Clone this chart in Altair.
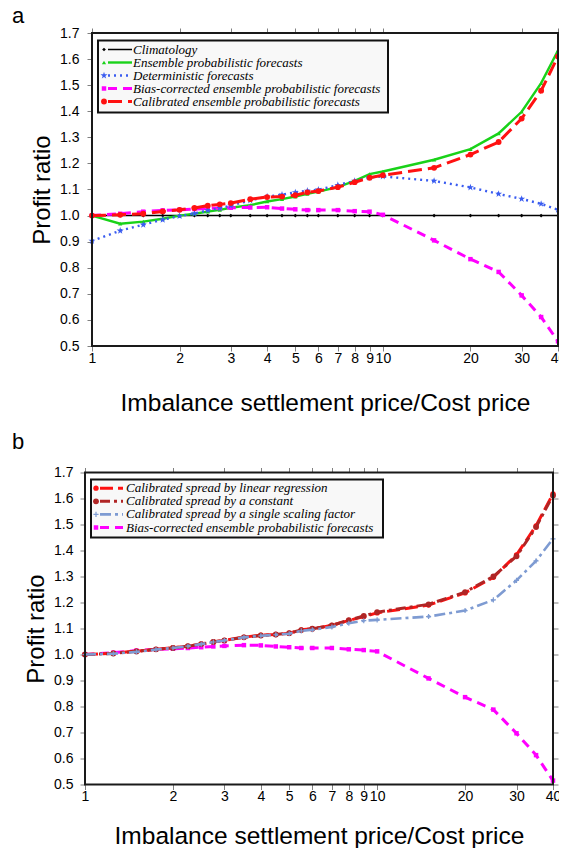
import altair as alt
import pandas as pd

# ---------------- data ----------------
X_VALUES = [1, 1.25, 1.5, 1.75, 2, 2.25, 2.5, 2.75, 3, 3.5, 4, 4.5, 5, 5.5, 6, 7, 8, 9, 10, 15, 20, 25, 30, 35, 40]

# panel a
CLIMATOLOGY = [1.0, 1.0, 1.0, 1.0, 1.0, 1.0, 1.0, 1.0, 1.0, 1.0, 1.0, 1.0, 1.0,
               1.0, 1.0, 1.0, 1.0, 1.0, 1.0, 1.0, 1.0, 1.0, 1.0, 1.0, 1.0]
ENSEMBLE = [1.000, 0.969, 0.977, 0.988, 1.000, 1.007, 1.015, 1.022, 1.030, 1.040, 1.054, 1.063, 1.073,
            1.083, 1.092, 1.109, 1.133, 1.159, 1.169, 1.214, 1.255, 1.315, 1.398, 1.508, 1.633]
DETERMINISTIC = [0.903, 0.942, 0.965, 0.984, 0.998, 1.008, 1.020, 1.029, 1.038, 1.058, 1.073, 1.080, 1.089,
                 1.095, 1.099, 1.117, 1.133, 1.146, 1.150, 1.133, 1.108, 1.083, 1.064, 1.045, 1.022]
BIAS_CORRECTED_A = [1.000, 1.007, 1.015, 1.020, 1.022, 1.025, 1.027, 1.029, 1.030, 1.031, 1.032, 1.027, 1.024,
                    1.021, 1.021, 1.021, 1.017, 1.015, 1.003, 0.905, 0.833, 0.784, 0.694, 0.611, 0.518]
CALIBRATED = [1.000, 1.003, 1.007, 1.016, 1.022, 1.029, 1.038, 1.043, 1.048, 1.063, 1.071, 1.073, 1.078,
              1.089, 1.094, 1.109, 1.128, 1.145, 1.155, 1.183, 1.234, 1.282, 1.372, 1.479, 1.610]

# panel b
LIN_REGRESSION = [1.000, 1.005, 1.013, 1.020, 1.026, 1.032, 1.041, 1.049, 1.054, 1.067, 1.074, 1.077, 1.082,
                  1.095, 1.099, 1.112, 1.131, 1.146, 1.160, 1.190, 1.237, 1.297, 1.383, 1.495, 1.618]
CONSTANT = [1.000, 1.004, 1.012, 1.020, 1.025, 1.032, 1.040, 1.048, 1.054, 1.066, 1.073, 1.077, 1.082,
            1.094, 1.099, 1.112, 1.132, 1.148, 1.163, 1.193, 1.240, 1.300, 1.378, 1.490, 1.612]
SCALING = [1.000, 1.003, 1.010, 1.019, 1.025, 1.032, 1.040, 1.048, 1.054, 1.066, 1.072, 1.076, 1.080,
           1.091, 1.095, 1.106, 1.120, 1.130, 1.133, 1.146, 1.169, 1.210, 1.285, 1.360, 1.445]
BIAS_CORRECTED_B = [1.000, 1.007, 1.015, 1.020, 1.022, 1.025, 1.028, 1.031, 1.033, 1.036, 1.035, 1.031, 1.028,
                    1.025, 1.025, 1.025, 1.020, 1.017, 1.012, 0.908, 0.836, 0.788, 0.697, 0.613, 0.515]

LABELS_A = ["Climatology", "Ensemble probabilistic forecasts", "Deterministic forecasts",
            "Bias-corrected ensemble probabilistic forecasts", "Calibrated ensemble probabilistic forecasts"]
LABELS_B = ["Calibrated spread by linear regression", "Calibrated spread by a constant",
            "Calibrated spread by a single scaling factor", "Bias-corrected ensemble probabilistic forecasts"]
PANEL_LABELS = ["a", "b"]
X_TITLE = "Imbalance settlement price/Cost price"
Y_TITLE = "Profit ratio"
X_TICKS = [1, 2, 3, 4, 5, 6, 7, 8, 9, 10, 20, 30, 40]
Y_TICKS = [0.5, 0.6, 0.7, 0.8, 0.9, 1.0, 1.1, 1.2, 1.3, 1.4, 1.5, 1.6, 1.7]

# ---------------- styles ----------------
STAR = ("M0,-1L0.225,-0.309L0.951,-0.309L0.363,0.118L0.588,0.809L0,0.382"
        "L-0.588,0.809L-0.363,0.118L-0.951,-0.309L-0.225,-0.309Z")
PLUS = "M-1,0L1,0M0,-1L0,1"

ST_CLIM = dict(color="#000000", width=1.5, shape="diamond", size=14, filled=True)
ST_ENS = dict(color="#19d219", width=2.4, shape="triangle-up", size=18, filled=True)
ST_DET = dict(color="#3a5cf0", width=2.4, dash=[2, 4], shape=STAR, size=55, filled=True)
ST_BIAS = dict(color="#ff00ff", width=3.0, dash=[9, 6], shape="square", size=20, filled=True)
ST_CAL = dict(color="#ff1111", width=3.0, dash=[14, 6], shape="circle", size=34, filled=True)
ST_LIN = dict(color="#ff1111", width=3.0, dash=[13, 5], shape="circle", size=28, filled=True)
ST_CON = dict(color="#b02525", width=3.0, dash=[10, 4, 3, 4], shape="circle", size=34, filled=True)
ST_SCA = dict(color="#7e9bd2", width=2.6, dash=[11, 4, 3, 4], shape=PLUS, size=26, filled=False)

FONT = "Liberation Sans"
SERIF = "Liberation Serif"


def xenc(rng, axis=None):
    return alt.X("x:Q", scale=alt.Scale(type="log", domain=[1, 40], nice=False, range=rng), axis=axis)


def yenc(axis=None):
    return alt.Y("y:Q", scale=alt.Scale(domain=[0.5, 1.7], nice=False, zero=False), axis=axis)


def line_kwargs(st):
    kw = dict(color=st["color"], strokeWidth=st["width"])
    if "dash" in st:
        kw["strokeDash"] = st["dash"]
    return kw


def point_kwargs(st):
    kw = dict(shape=st["shape"], size=st["size"], filled=st["filled"], color=st["color"], opacity=1)
    if not st["filled"]:
        kw["strokeWidth"] = 1.2
    return kw


def series_layers(values, st, rng):
    df = pd.DataFrame({"x": X_VALUES, "y": values})
    line = alt.Chart(df).mark_line(**line_kwargs(st)).encode(x=xenc(rng), y=yenc())
    pts = alt.Chart(df).mark_point(**point_kwargs(st)).encode(x=xenc(rng), y=yenc())
    return [line, pts]


def axis_layers(values, rng, title_pad_x, label_pad_y, left_offset):
    df = pd.DataFrame({"x": X_VALUES, "y": values})
    common = dict(tickColor="#808080", tickWidth=1, tickSize=5, domain=False, grid=False)
    bottom = alt.Axis(orient="bottom", values=X_TICKS, format="d", title=X_TITLE,
                      labelFont=FONT, labelFontSize=14, labelColor="black", labelPadding=0,
                      labelFlush=False, labelOverlap=False,
                      titleFont=FONT, titleFontSize=24.5, titleFontWeight="normal", titleColor="black",
                      titlePadding=title_pad_x, **common)
    left = alt.Axis(orient="left", values=Y_TICKS, format=".1f", title=Y_TITLE, offset=left_offset,
                    labelFont=FONT, labelFontSize=14, labelColor="black", labelPadding=label_pad_y,
                    labelOverlap=False,
                    titleFont=FONT, titleFontSize=24, titleFontWeight="normal", titleColor="black",
                    titlePadding=5, **common)
    top = alt.Axis(orient="top", values=X_TICKS, labels=False, title=None, **common)
    right = alt.Axis(orient="right", values=Y_TICKS, labels=False, title=None, **common)
    l1 = alt.Chart(df).mark_point(opacity=0).encode(x=xenc(rng, bottom), y=yenc(left))
    l2 = alt.Chart(df).mark_point(opacity=0).encode(x=xenc(rng, top), y=yenc(right))
    return [l1, l2]


def frame_layer(x0, x1, h):
    one = pd.DataFrame({"k": [0]})
    return alt.Chart(one).mark_rect(fill="white", fillOpacity=0, stroke="#1a1a1a", strokeWidth=2).encode(
        x=alt.value(x0), x2=alt.value(x1), y=alt.value(0), y2=alt.value(h))


def legend_layers(labels, styles, box, row_y, sym_x, line_x0, line_x1, text_x):
    one = pd.DataFrame({"k": [0]})
    layers = [alt.Chart(one).mark_rect(fill="#f8f8f8", stroke="#111111", strokeWidth=2).encode(
        x=alt.value(box[0]), x2=alt.value(box[1]), y=alt.value(box[2]), y2=alt.value(box[3]))]
    for i, (lab, st) in enumerate(zip(labels, styles)):
        yy = row_y[0] + i * row_y[1]
        layers.append(alt.Chart(one).mark_rule(**line_kwargs(st)).encode(
            x=alt.value(line_x0), x2=alt.value(line_x1), y=alt.value(yy)))
        layers.append(alt.Chart(one).mark_point(**point_kwargs(st)).encode(
            x=alt.value(sym_x), y=alt.value(yy)))
        layers.append(alt.Chart(pd.DataFrame({"label": [lab]})).mark_text(
            align="left", baseline="middle", font=SERIF, fontStyle="italic", fontSize=13,
            color="black").encode(x=alt.value(text_x), y=alt.value(yy), text="label:N"))
    return layers


def panel_label(lab, x, y):
    return alt.Chart(pd.DataFrame({"label": [lab]})).mark_text(
        align="left", baseline="alphabetic", font=FONT, fontSize=22, color="black").encode(
        x=alt.value(x), y=alt.value(y), text="label:N")


# ---------------- panel a ----------------
# plot area of panel a starts 7px to the right of panel b's
RNG_A = [7, 473]
layers_a = axis_layers(CLIMATOLOGY, RNG_A, 26, 8, -7)
layers_a += series_layers(CLIMATOLOGY, ST_CLIM, RNG_A)
layers_a += series_layers(ENSEMBLE, ST_ENS, RNG_A)
layers_a += series_layers(BIAS_CORRECTED_A, ST_BIAS, RNG_A)
layers_a += series_layers(DETERMINISTIC, ST_DET, RNG_A)
layers_a += series_layers(CALIBRATED, ST_CAL, RNG_A)
layers_a.append(frame_layer(7, 473, 313))
layers_a += legend_layers(LABELS_A, [ST_CLIM, ST_ENS, ST_DET, ST_BIAS, ST_CAL],
                          (13, 303, 7.5, 79.5), (16.5, 13.0), 19, 23, 47, 48)
layers_a.append(panel_label(PANEL_LABELS[0], -73, -10.5))
panel_a = alt.layer(*layers_a).resolve_axis(x="independent", y="independent").properties(
    width=473, height=313)

# ---------------- panel b ----------------
RNG_B = [0, 468]
layers_b = axis_layers(BIAS_CORRECTED_B, RNG_B, 21, 7, 0)
layers_b += series_layers(BIAS_CORRECTED_B, ST_BIAS, RNG_B)
layers_b += series_layers(LIN_REGRESSION, ST_LIN, RNG_B)
layers_b += series_layers(CONSTANT, ST_CON, RNG_B)
layers_b += series_layers(SCALING, ST_SCA, RNG_B)
layers_b.append(frame_layer(0, 468, 312))
layers_b += legend_layers(LABELS_B, [ST_LIN, ST_CON, ST_SCA, ST_BIAS],
                          (6, 298, 7, 65), (15.7, 13.1), 11, 15, 38, 41)
layers_b.append(panel_label(PANEL_LABELS[1], -73, -23.3))
panel_b = alt.layer(*layers_b).resolve_axis(x="independent", y="independent").properties(
    width=468, height=312)

chart = alt.vconcat(panel_a, panel_b, spacing=15.5).properties(
    padding={"left": 4, "right": -7, "top": -4, "bottom": 0},
    background="white",
).configure_view(strokeWidth=0)

chart.save("out.html", embed_options={"renderer": "svg", "actions": False})
